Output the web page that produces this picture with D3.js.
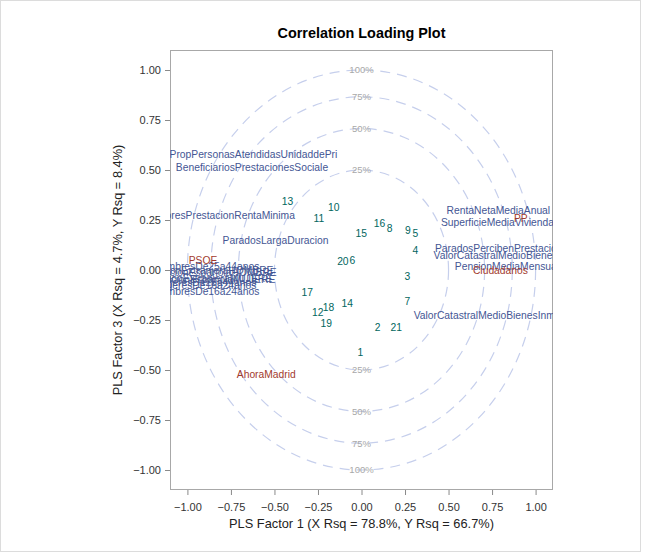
<!DOCTYPE html>
<html>
<head>
<meta charset="utf-8">
<script src="https://cdn.jsdelivr.net/npm/d3@7"></script>
<style>
  html, body { margin: 0; padding: 0; background: #fff; }
  svg { display: block; font-family: Arial, "Liberation Sans", sans-serif; }
</style>
</head>
<body>
<svg id="chart" width="650" height="552"></svg>
<script>
// Observation scores (numbered points)
const obsIds = ["1","2","3","4","5","6","7","8","9","10","11","12","13","14","15","16","17","18","19","20","21"];
const obsX = [-0.006, 0.092, 0.263, 0.309, 0.309, -0.052, 0.263, 0.161, 0.266, -0.159, -0.245, -0.251, -0.425, -0.082, -0.002, 0.103, -0.312, -0.190, -0.203, -0.107, 0.199];
const obsY = [-0.410, -0.285, -0.034, 0.100, 0.184, 0.050, -0.156, 0.210, 0.200, 0.315, 0.260, -0.214, 0.342, -0.169, 0.184, 0.235, -0.114, -0.189, -0.268, 0.045, -0.285];

// X (predictor) variable loadings
const xVarNames = [
  "PropPersonasAtendidasUnidaddePri",
  "BeneficiariosPrestacionesSociale",
  "PerceptoresPrestacionRentaMinima",
  "ParadosLargaDuracion",
  "HombresDe25a44anos",
  "PoblacionEspanolaHOMBRE",
  "PoblacionExtranjeraHOMBRE",
  "PoblacionEspanolaMUJERE",
  "PoblacionExtranjeraMUJERE",
  "MujeresDe25a44anos",
  "MujeresDe16a24anos",
  "HombresDe16a24anos",
  "RentaNetaMediaAnual",
  "SuperficieMediaVivienda",
  "ParadosPercibenPrestacionDesempl",
  "ValorCatastralMedioBienesUrbanos",
  "PensionMediaMensualDesempleo",
  "ValorCatastralMedioBienesInmuebl"
];
const xVarX = [-0.621, -0.629, -0.856, -0.494, -0.891, -0.870, -0.900, -0.870, -0.900, -0.893, -0.893, -0.891, 0.786, 0.781, 0.905, 0.882, 0.985, 0.761];
const xVarY = [0.578, 0.513, 0.271, 0.147, 0.017, -0.010, -0.004, -0.045, -0.040, -0.060, -0.075, -0.105, 0.298, 0.240, 0.109, 0.072, 0.017, -0.226];

// Y (response) variable loadings
const yVarNames = ["PSOE", "PP", "Ciudadanos", "AhoraMadrid"];
const yVarX = [-0.910, 0.915, 0.798, -0.547];
const yVarY = [0.047, 0.256, 0.000, -0.523];

// Explained-variance circles
const circlePct = [25, 50, 75, 100];

const tickValues = [-1.00, -0.75, -0.50, -0.25, 0.00, 0.25, 0.50, 0.75, 1.00];

const titleText = "Correlation Loading Plot";
const xTitle = "PLS Factor 1 (X Rsq = 78.8%, Y Rsq = 66.7%)";
const yTitle = "PLS Factor 3 (X Rsq = 4.7%, Y Rsq = 8.4%)";

const svg = d3.select("#chart");
const plot = { left: 170, right: 553, top: 50, bottom: 490 };

const x = d3.scaleLinear().domain([-1.1, 1.1]).range([plot.left, plot.right]);
const y = d3.scaleLinear().domain([-1.1, 1.1]).range([plot.bottom, plot.top]);

// outer graph border
svg.append("rect")
  .attr("x", 0.5).attr("y", 0.5).attr("width", 640).attr("height", 551)
  .attr("fill", "none").attr("stroke", "#dcdcdc");

svg.append("defs").append("clipPath").attr("id", "plotClip")
  .append("rect")
  .attr("x", plot.left).attr("y", plot.top)
  .attr("width", plot.right - plot.left).attr("height", plot.bottom - plot.top);

// title
svg.append("text")
  .attr("x", (plot.left + plot.right) / 2).attr("y", 38)
  .attr("text-anchor", "middle")
  .attr("font-size", 14.4).attr("font-weight", "bold").attr("fill", "#000")
  .text(titleText);

// axes
const xAxis = d3.axisBottom(x).tickValues(tickValues).tickFormat(d3.format(".2f")).tickSize(5).tickPadding(4);
const yAxis = d3.axisLeft(y).tickValues(tickValues).tickFormat(d3.format(".2f")).tickSize(5).tickPadding(4);

const gx = svg.append("g").attr("transform", `translate(0,${plot.bottom})`).call(xAxis);
const gy = svg.append("g").attr("transform", `translate(${plot.left},0)`).call(yAxis);
[gx, gy].forEach(g => {
  g.select(".domain").remove();
  g.selectAll(".tick line").attr("stroke", "#8a8a8a");
  g.selectAll(".tick text").attr("font-size", 11).attr("fill", "#333")
    .attr("font-family", "Arial, 'Liberation Sans', sans-serif");
});
gx.selectAll(".tick text").attr("dy", "1.05em");

// axis titles
svg.append("text")
  .attr("x", (plot.left + plot.right) / 2).attr("y", 528)
  .attr("text-anchor", "middle").attr("font-size", 12.8).attr("fill", "#222")
  .text(xTitle);
svg.append("text")
  .attr("transform", `translate(122,${(plot.top + plot.bottom) / 2}) rotate(-90)`)
  .attr("text-anchor", "middle").attr("font-size", 12.8).attr("fill", "#222")
  .text(yTitle);

// plot frame
svg.append("rect")
  .attr("x", plot.left + 0.5).attr("y", plot.top + 0.5)
  .attr("width", plot.right - plot.left - 1).attr("height", plot.bottom - plot.top - 1)
  .attr("fill", "none").attr("stroke", "#a8a8a8");

const inner = svg.append("g").attr("clip-path", "url(#plotClip)");

// dashed circles of explained variance (radius = sqrt(pct))
const circles = circlePct.map(p => ({ p, r: Math.sqrt(p / 100) }));
inner.selectAll("ellipse.ring").data(circles).join("ellipse")
  .attr("class", "ring")
  .attr("cx", x(0)).attr("cy", y(0))
  .attr("rx", d => x(d.r) - x(0)).attr("ry", d => y(0) - y(d.r))
  .attr("fill", "none").attr("stroke", "#c6cfec").attr("stroke-width", 1.2)
  .attr("stroke-dasharray", "10,7");

const ringLabels = circles.flatMap(d => [{ p: d.p, v: d.r }, { p: d.p, v: -d.r }]);
inner.selectAll("text.ringlab").data(ringLabels).join("text")
  .attr("class", "ringlab")
  .attr("x", x(0)).attr("y", d => y(d.v))
  .attr("dy", "0.35em").attr("text-anchor", "middle")
  .attr("font-size", 9.5).attr("fill", "#a8a8a8")
  .text(d => d.p + "%");

// observations
const obs = obsIds.map((id, i) => ({ id, x: obsX[i], y: obsY[i] }));
inner.selectAll("text.obs").data(obs).join("text")
  .attr("class", "obs")
  .attr("x", d => x(d.x)).attr("y", d => y(d.y))
  .attr("dy", "0.35em").attr("text-anchor", "middle")
  .attr("font-size", 10.3).attr("fill", "#01665E")
  .text(d => d.id);

// X variables
const xVars = xVarNames.map((n, i) => ({ n, x: xVarX[i], y: xVarY[i] }));
inner.selectAll("text.xvar").data(xVars).join("text")
  .attr("class", "xvar")
  .attr("x", d => x(d.x)).attr("y", d => y(d.y))
  .attr("dy", "0.35em").attr("text-anchor", "middle")
  .attr("font-size", 10.3).attr("fill", "#445694")
  .text(d => d.n);

// Y variables
const yVars = yVarNames.map((n, i) => ({ n, x: yVarX[i], y: yVarY[i] }));
inner.selectAll("text.yvar").data(yVars).join("text")
  .attr("class", "yvar")
  .attr("x", d => x(d.x)).attr("y", d => y(d.y))
  .attr("dy", "0.35em").attr("text-anchor", "middle")
  .attr("font-size", 10.3).attr("fill", "#A23A2E")
  .text(d => d.n);
</script>
</body>
</html>
